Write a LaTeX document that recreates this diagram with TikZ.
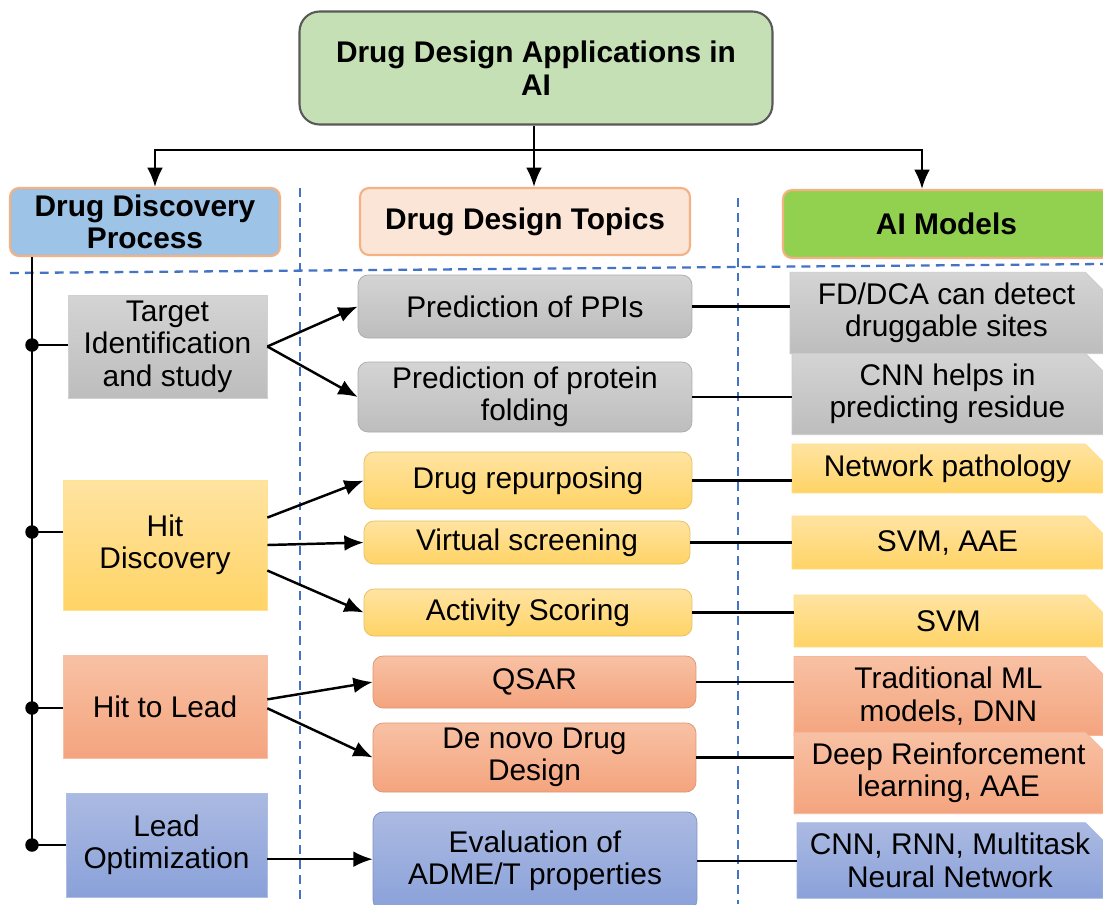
\documentclass[tikz,border=0pt]{standalone}
\usepackage{fontspec}
\setmainfont{Liberation Sans}
\usetikzlibrary{arrows.meta,shapes.misc}

\definecolor{rootgreen}{HTML}{C5E0B4}
\definecolor{rootedge}{HTML}{595959}
\definecolor{headedge}{HTML}{F4B183}
\definecolor{procblue}{HTML}{9DC3E6}
\definecolor{topicpeach}{HTML}{FBE5D6}
\definecolor{modelgreen}{HTML}{92D050}
\definecolor{sepblue}{HTML}{4472C4}
\definecolor{greyA}{HTML}{D4D4D4}
\definecolor{greyB}{HTML}{BDBDBD}
\definecolor{yellowA}{HTML}{FFE3A1}
\definecolor{yellowB}{HTML}{FFD466}
\definecolor{salmonA}{HTML}{F8C1A4}
\definecolor{salmonB}{HTML}{F4A47E}
\definecolor{blueA}{HTML}{ABBAE2}
\definecolor{blueB}{HTML}{8AA1D9}

\tikzstyle{root} = [rectangle, draw=rootedge, line width=1.2pt, fill=rootgreen, rounded corners=0.4cm, align=center, font=\fontsize{17}{18.5}\bfseries, minimum width=9.46cm, minimum height=2.26cm]
\tikzstyle{head} = [rectangle, draw=headedge, line width=1.2pt, rounded corners=0.18cm, align=center, font=\fontsize{17}{18.5}\bfseries]
\tikzstyle{stage} = [rectangle, align=center, inner sep=1pt, draw=#1B!70, top color=#1A, bottom color=#1B]
\tikzstyle{topic} = [rectangle, rounded corners=0.2cm, align=center, inner sep=1pt, draw=#1B!90!black, top color=#1A, bottom color=#1B]
\tikzstyle{model} = [chamfered rectangle, chamfered rectangle corners=north east, chamfered rectangle xsep=5pt, chamfered rectangle ysep=5pt, align=center, inner sep=1pt, draw=#1B!80, top color=#1A, bottom color=#1B]
\tikzstyle{dot} = [circle, fill=black, inner sep=0pt, minimum size=0.27cm]
\tikzstyle{sep} = [draw=sepblue, line width=1.3pt, dash pattern=on 5pt off 3.5pt]
\tikzstyle{link} = [draw, line width=1.4pt]
\tikzstyle{line} = [draw, line width=1.4pt, -{Latex[length=11pt,width=9pt]}]

\begin{document}
\begin{tikzpicture}[x=0.02cm, y=-0.02cm, font=\fontsize{17}{18.5}\selectfont]
	\useasboundingbox (0,0) rectangle (1103,904);
	\clip (0,0) rectangle (1103,904);
	\fill[white] (0,0) rectangle (1103,904);

	% column separators
	\path[sep] (300,188) -- (300,904);
	\path[sep] (738,198) -- (738,904);
	\path[sep] (10,273) -- (1103,264);

	% headings
	\node [root] (apps) at (536,68) {Drug Design Applications in\\AI};
	\node [head, fill=procblue, minimum width=5.4cm, minimum height=1.36cm] (process) at (145,222) {Drug Discovery\\Process};
	\node [head, fill=topicpeach, minimum width=6.6cm, minimum height=1.34cm] (topics) at (525,221.5) {Drug Design Topics};
	\node [head, fill=modelgreen, minimum width=6.54cm, minimum height=1.36cm] (models) at (946.5,224) {AI Models};

	\coordinate (split) at (534,150);
	\path[link] (apps.south -| split) -- (split);
	\path[line] (split) -| ([xshift=0.2cm]process.north);
	\path[line] (split) -- (split |- topics.north);
	\path[line] (split) -| ([xshift=-0.49cm]models.north);

	% discovery stages
	\node [stage=grey, minimum width=3.98cm, minimum height=2.06cm] (target) at (167.5,346.5) {Target\\Identification\\and study};
	\node [stage=yellow, minimum width=4.08cm, minimum height=2.6cm] (hit) at (165,545) {Hit\\Discovery};
	\node [stage=salmon, minimum width=4.08cm, minimum height=2.06cm] (lead) at (165,706.5) {Hit to Lead};
	\node [stage=blue, minimum width=4.02cm, minimum height=2.08cm] (optim) at (166.5,845) {Lead\\Optimization};

	\node [dot] (d1) at (32,345) {};
	\node [dot] (d2) at (32,532) {};
	\node [dot] (d3) at (32,708) {};
	\node [dot] (d4) at (32,845) {};
	\path[link] (process.south -| d4.center) -- (d4.center);
	\path[link] (d1.center) -- (d1.center -| target.west);
	\path[link] (d2.center) -- (d2.center -| hit.west);
	\path[link] (d3.center) -- (d3.center -| lead.west);
	\path[link] (d4.center) -- (d4.center -| optim.west);

	% design topics
	\node [topic=grey, minimum width=6.68cm, minimum height=1.26cm] (ppi) at (525,306.5) {Prediction of PPIs};
	\node [topic=grey, minimum width=6.68cm, minimum height=1.4cm] (fold) at (525,397) {Prediction of protein\\folding};
	\node [topic=yellow, minimum width=6.56cm, minimum height=1.14cm] (repurp) at (528,480.5) {Drug repurposing};
	\node [topic=yellow, minimum width=6.52cm, minimum height=0.86cm] (screen) at (527,542.5) {Virtual screening};
	\node [topic=yellow, minimum width=6.56cm, minimum height=0.94cm] (score) at (528,612.5) {Activity Scoring};
	\node [topic=salmon, minimum width=6.46cm, minimum height=1.04cm] (qsar) at (534.5,682) {QSAR};
	\node [topic=salmon, minimum width=6.46cm, minimum height=1.38cm] (denovo) at (534.5,757.5) {De novo Drug\\Design};
	\node [topic=blue, minimum width=6.48cm, minimum height=1.96cm] (adme) at (535,861) {Evaluation of\\ADME/T properties};

	\path[line] (target.east) -- (ppi.west);
	\path[line] (target.east) -- (fold.west);
	\path[line] (hit.15) -- (repurp.west);
	\path[line] (hit.east) -- (screen.west);
	\path[line] (hit.-14) -- (score.west);
	\path[line] (lead.4) -- (qsar.west);
	\path[line] (lead.-1) -- (denovo.west);
	\path[line] (optim.-8) -- (optim.-8 -| adme.west);

	% models
	\node [model=grey, minimum width=6.26cm, minimum height=1.28cm] (fdca) at (946.5,313) {FD/DCA can detect\\druggable sites};
	\node [model=grey, minimum width=6.22cm, minimum height=1.44cm] (cnnres) at (947.5,394) {CNN helps in\\predicting residue};
	\node [model=yellow, minimum width=6.22cm, minimum height=0.74cm] (netpath) at (947.5,468.5) {Network pathology};
	\node [model=yellow, minimum width=6.22cm, minimum height=1.06cm] (svmaae) at (947.5,542.5) {SVM, AAE};
	\node [model=yellow, minimum width=6.18cm, minimum height=1.04cm] (svm) at (948.5,621) {SVM};
	\node [model=salmon, minimum width=6.18cm, minimum height=1.36cm] (tradml) at (948.5,696) {Traditional ML\\models, DNN};
	\node [model=salmon, minimum width=6.18cm, minimum height=1.16cm] (deeprl) at (948.5,773) {Deep Reinforcement\\learning, AAE};
	\node [model=blue, minimum width=6.12cm, minimum height=1.5cm] (multi) at (950,860.5) {CNN, RNN, Multitask\\Neural Network};

	\path[link] (ppi.east) -- (ppi.east -| fdca.west);
	\path[link] (fold.east) -- (fold.east -| cnnres.west);
	\path[link] (repurp.east) -- (repurp.east -| netpath.west);
	\path[link] (screen.east) -- (screen.east -| svmaae.west);
	\path[link] (score.east) -- (score.east -| svm.west);
	\path[link] (qsar.east) -- (qsar.east -| tradml.west);
	\path[link] (denovo.east) -- (denovo.east -| deeprl.west);
	\path[link] (adme.east) -- (adme.east -| multi.west);
\end{tikzpicture}
\end{document}
